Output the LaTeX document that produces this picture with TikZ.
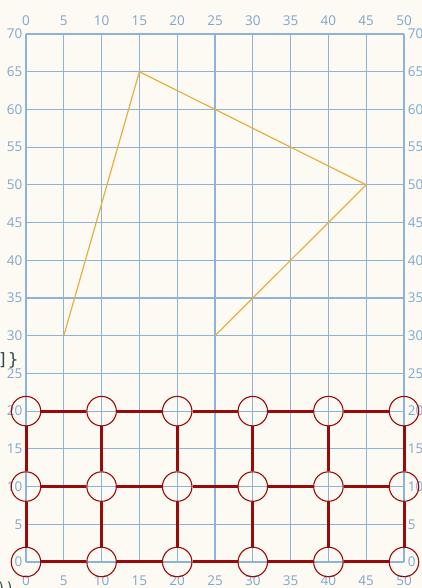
\documentclass[tikz,border=0pt]{standalone}
\usepackage{fontspec}
\setmainfont{Open Sans}
\newfontfamily\monof{DejaVu Sans Mono}
\definecolor{bgc}{HTML}{FDFAF3}
\definecolor{gridc}{HTML}{8DB3D9}
\definecolor{labc}{HTML}{7FA7CF}
\definecolor{polyc}{HTML}{E6B040}
\definecolor{redc}{HTML}{9A0A0A}
\definecolor{codec}{HTML}{2E4A4A}
\tikzset{
  gridline/.style={draw=gridc, line width=1.25pt},
  axlab/.style={text=labc, font=\fontsize{13.5}{14}\selectfont, inner sep=0pt},
  ring/.style={circle, draw=redc, line width=1.1pt, minimum size=29.5pt, inner sep=0pt},
  bar/.style={draw=redc, line width=3pt},
  polyline/.style={draw=polyc, line width=1.2pt, line join=round},
}
\begin{document}
\begin{tikzpicture}[x=1pt,y=1pt]
\useasboundingbox (0,0) rectangle (422,588);
\fill[bgc] (0,0) rectangle (422,588);
\clip (0,0) rectangle (422,588);
\begin{scope}[shift={(26,26)}, x=7.56pt, y=7.543pt]
  % grid
  \foreach \i in {0,5,...,50} \draw[gridline] (\i,0) -- (\i,70);
  \foreach \j in {0,5,...,70} \draw[gridline] (0,\j) -- (50,\j);
  % axis labels
  \foreach \i in {0,5,...,50} {
    \node[axlab] (t\i) at (\i,71.7) {\i};
    \node[axlab] (b\i) at (\i,-2.45) {\i};
  }
  \foreach \j in {0,5,...,70} {
    \node[axlab, anchor=east] (l\j) at (-0.45,\j) {\j};
    \node[axlab, anchor=west] (r\j) at (0.5+50,\j) {\j};
  }
  % polyline
  \coordinate (p1) at (5,30);
  \coordinate (p2) at (15,65);
  \coordinate (p3) at (45,50);
  \coordinate (p4) at (25,30);
  \draw[polyline] (p1) -- (p2) -- (p3) -- (p4);
  % red mesh
  \foreach \i in {0,10,20,30,40,50}
    \foreach \j in {0,10,20}
      \node[ring] (n\i-\j) at (\i,\j) {};
  \foreach \i/\k in {0/10,10/20,20/30,30/40,40/50}
    \foreach \j in {0,10,20}
      \draw[bar] (n\i-\j) -- (n\k-\j);
  \foreach \i in {0,10,20,30,40,50} {
    \draw[bar] (n\i-0) -- (n\i-10);
    \draw[bar] (n\i-10) -- (n\i-20);
  }
\end{scope}
\node[text=codec, anchor=east, inner sep=0pt, font=\monof\fontsize{17}{18}\selectfont] (code1) at (18.5,228) {]\}};
\node[text=codec, anchor=north west, inner sep=0pt, font=\monof\fontsize{14}{16}\selectfont] (code2) at (-3,6.5) {))};
\end{tikzpicture}
\end{document}
